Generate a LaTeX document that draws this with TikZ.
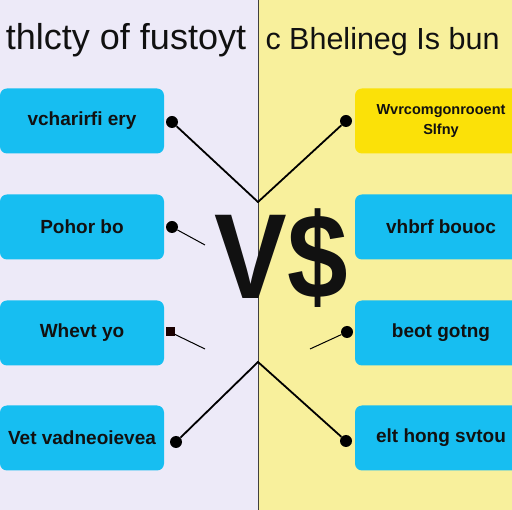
\documentclass[tikz,border=0pt]{standalone}
\usepackage{fontspec}
\setmainfont{Liberation Sans}
\usepackage{xcolor}
\usetikzlibrary{positioning, calc}
\definecolor{lavbg}{HTML}{EDEAF8}
\definecolor{yelbg}{HTML}{F8F09C}
\definecolor{cyanbox}{HTML}{17BEF1}
\definecolor{yelbox}{HTML}{FBE108}
\definecolor{inkc}{HTML}{111111}
\tikzset{
  %% Item box
  ibox/.style={
    rectangle, rounded corners=7pt,
    draw=none, fill=#1,
    minimum height=65pt, inner sep=0pt,
    text=inkc, align=center,
    font=\fontsize{19}{21}\selectfont\bfseries
  },
  ibox/.default=cyanbox,
  %% Pin ends
  pin/.style={circle, fill=black, inner sep=0pt, minimum size=12pt},
  sqpin/.style={rectangle, fill=black!90!red, inner sep=0pt, minimum size=9pt},
  %% Lines
  link/.style={draw=black, line width=1.8pt},
  flick/.style={draw=black, line width=1pt},
}

\begin{document}
\begin{tikzpicture}[x=1pt, y=-1pt]

  %% Backgrounds
  \useasboundingbox (0,0) rectangle (512,510);
  \clip (0,0) rectangle (512,510);
  \fill[lavbg] (0,0) rectangle (258,510);
  \fill[yelbg] (258,0) rectangle (512,510);
  \draw[black!75, line width=1pt] (258,0) -- (258,510);

  %% Titles
  \node[anchor=base, font=\fontsize{36}{40}\selectfont, text=inkc]
       (ltitle) at (126,50) {thlcty of fustoyt};
  \node[anchor=base west, font=\fontsize{30.5}{40}\selectfont, text=inkc]
       (rtitle) at (262,50) {c Bhelineg Is bun};

  %% Left boxes
  \node[ibox, minimum width=164pt] (lb1) at (82,121) {vcharirfi ery};
  \node[ibox, minimum width=164pt] (lb2) at (82,227) {Pohor bo};
  \node[ibox, minimum width=164pt] (lb3) at (82,333) {Whevt yo};
  \node[ibox, minimum width=164pt] (lb4) at (82,438) {Vet vadneoievea};

  %% Right boxes
  \node[ibox=yelbox, minimum width=172pt,
        font=\fontsize{14.5}{20}\selectfont\bfseries]
       (rb1) at (441,121) {Wvrcomgonrooent\\Slfny};
  \node[ibox, minimum width=172pt] (rb2) at (441,227) {vhbrf bouoc};
  \node[ibox, minimum width=172pt] (rb3) at (441,333) {beot gotng};
  \node[ibox, minimum width=172pt] (rb4) at (441,438) {elt hong svtou};

  %% Centre mark
  \node[anchor=base, xscale=0.9, text=inkc,
        font=\fontsize{121}{121}\selectfont\bfseries]
       (vs) at (281,299) {V\$};

  %% Pins
  \node[pin]   (p1) at (172,122) {};
  \node[pin]   (p2) at (172,227) {};
  \node[sqpin] (p3) at (170,332) {};
  \node[pin]   (p4) at (176,442) {};
  \node[pin]   (q1) at (346,121) {};
  \node[pin]   (q3) at (347,332) {};
  \node[pin]   (q4) at (346,441) {};

  %% Joints
  \coordinate (topj) at (258,202);
  \coordinate (botj) at (258,362);
  \coordinate (t2) at (205,245);
  \coordinate (t3) at (205,349);
  \coordinate (u3) at (310,349);

  %% Lines
  \draw[link]  (p1) -- (topj) -- (q1);
  \draw[link]  (p4) -- (botj) -- (q4);
  \draw[flick] (p2) -- (t2);
  \draw[flick] (p3) -- (t3);
  \draw[flick] (q3) -- (u3);

\end{tikzpicture}
\end{document}
